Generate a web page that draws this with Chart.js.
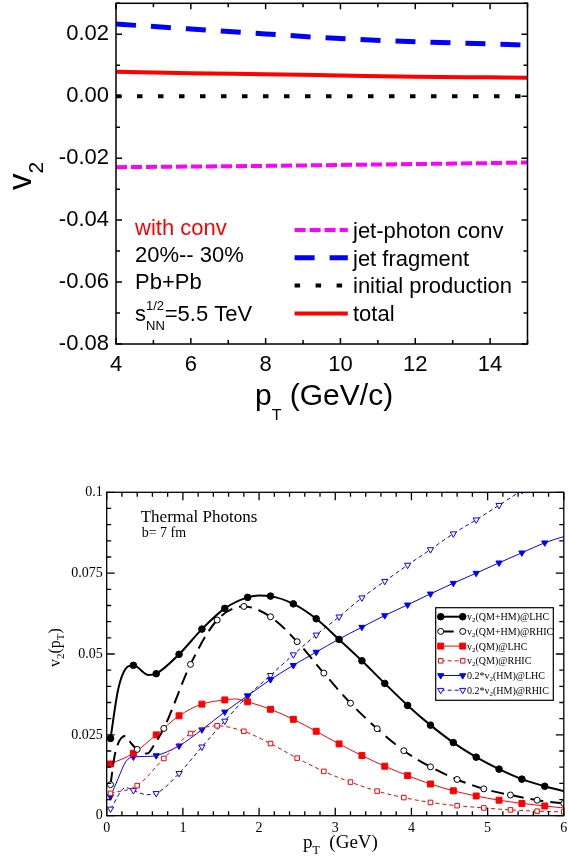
<!DOCTYPE html>
<html>
<head>
<meta charset="utf-8">
<script src="https://cdn.jsdelivr.net/npm/chart.js@4.4.1/dist/chart.umd.min.js"></script>
<style>
  body { margin: 0; background: #fff; }
  canvas { position: absolute; left: 0; }
  #top { top: 0; }
  #bottom { top: 420px; }
</style>
</head>
<body>
<canvas id="top" width="569" height="420"></canvas>
<canvas id="bottom" width="569" height="438"></canvas>
<script>
const sans = '"Liberation Sans", Arial, sans-serif';
const serif = '"Liberation Serif", "Times New Roman", serif';

// top panel: jet photon v2, Pb+Pb 5.5 TeV
const ptJet = [4, 6, 8, 10, 12, 14, 15];
const jetPhotonConv = [-0.0229, -0.0227, -0.0225, -0.0222, -0.0219, -0.0216, -0.0214];
const jetFragment = [0.0233, 0.0217, 0.0201, 0.0186, 0.0176, 0.0169, 0.0165];
const initialProduction = [0, 0, 0, 0, 0, 0, 0];
const totalV2 = [0.0079, 0.0074, 0.0071, 0.0067, 0.0063, 0.0061, 0.0060];
const topXTicks = [4, 6, 8, 10, 12, 14];
const topYTicks = [-0.08, -0.06, -0.04, -0.02, 0, 0.02];

// bottom panel: thermal photons, marker positions + values read at them
const lhcPt = [0.05, 0.35, 0.65, 0.95, 1.25, 1.55, 1.85, 2.15, 2.45, 2.75, 3.05, 3.35, 3.65, 3.95, 4.25, 4.55, 4.85, 5.15, 5.45, 5.75];
const rhicPt = [0.05, 0.40, 0.75, 1.10, 1.45, 1.80, 2.15, 2.50, 2.85, 3.20, 3.55, 3.90, 4.25, 4.60, 4.95, 5.30, 5.65, 6.00];
const qmhmLhc = [0.0239, 0.0465, 0.0439, 0.0499, 0.0577, 0.0641, 0.0675, 0.0679, 0.0655, 0.0609, 0.0545, 0.0479, 0.0409, 0.0341, 0.0280, 0.0226, 0.0181, 0.0144, 0.0113, 0.0091];
const qmhmRhic = [0.0096, 0.0205, 0.0270, 0.0468, 0.0605, 0.0647, 0.0615, 0.0538, 0.0441, 0.0348, 0.0269, 0.0201, 0.0151, 0.0112, 0.0083, 0.0064, 0.0048, 0.0038];
const qmLhc = [0.0160, 0.0193, 0.0250, 0.0309, 0.0345, 0.0358, 0.0352, 0.0329, 0.0298, 0.0261, 0.0222, 0.0186, 0.0153, 0.0124, 0.0098, 0.0077, 0.0061, 0.0048, 0.0038, 0.0030];
const qmRhic = [0.0069, 0.0093, 0.0177, 0.0254, 0.0278, 0.0261, 0.0223, 0.0178, 0.0137, 0.0104, 0.0076, 0.0056, 0.0041, 0.0031, 0.0024, 0.0018, 0.0014, 0.0012];
const hmLhc = [0.0059, 0.0182, 0.0186, 0.0216, 0.0266, 0.0321, 0.0371, 0.0421, 0.0465, 0.0506, 0.0546, 0.0583, 0.0619, 0.0652, 0.0686, 0.0719, 0.0750, 0.0782, 0.0813, 0.0844];
const hmRhic = [0.0021, 0.0078, 0.0069, 0.0131, 0.0213, 0.0293, 0.0370, 0.0434, 0.0498, 0.0559, 0.0615, 0.0674, 0.0725, 0.0775, 0.0823, 0.0872, 0.0915, 0.0960, 0.1006];
// curve points between markers (no symbol drawn there)
const qmhmLhcCurve = [[0.15, 0.0390], [0.25, 0.0455], [0.55, 0.0435], [2.0, 0.0681], [6.0, 0.0076]];
const qmhmRhicCurve = [[0.11, 0.0192], [0.25, 0.0247], [0.32, 0.0224], [0.53, 0.0192], [0.63, 0.0222]];
const qmLhcCurve = [[1.68, 0.0361], [6.0, 0.0024]];
const hmLhcCurve = [[0.15, 0.0115], [0.25, 0.0167], [0.5, 0.0183], [6.0, 0.0863]];
const hmRhicCurve = [[0.25, 0.0087], [0.53, 0.0065]];
const bottomXTicks = [0, 1, 2, 3, 4, 5, 6];
const bottomYTicks = [0, 0.025, 0.05, 0.075, 0.1];

function pts(xs, ys, extra) {
  const p = ys.map((y, i) => ({ x: xs[i], y: y, m: true }));
  (extra || []).forEach(e => p.push({ x: e[0], y: e[1], m: false }));
  return p.sort((a, b) => a.x - b.x);
}

// draws text pieces one after another; [text, size, dy, advance?]
function rich(ctx, x, y, parts, family) {
  let cx = x;
  parts.forEach(([t, size, dy, adv]) => {
    ctx.font = size + 'px ' + family;
    ctx.fillText(t, cx, y + (dy || 0));
    if (adv !== false) cx += ctx.measureText(t).width;
  });
  return cx;
}

function subParts(label, size, subSize, dy) {
  return label.split(/_(\w)/).map((t, i) => i % 2 ? [t, subSize, dy] : [t, size, 0]).filter(p => p[0]);
}

// frame + inward ticks on all four sides
function frameTicks(o) {
  return {
    id: 'frameTicks',
    afterDraw(chart) {
      const { ctx, chartArea: a, scales: { x, y } } = chart;
      ctx.save();
      ctx.strokeStyle = '#000';
      ctx.lineWidth = o.width;
      ctx.setLineDash([]);
      ctx.beginPath();
      const xt = (v, len) => {
        const p = x.getPixelForValue(v);
        ctx.moveTo(p, a.bottom); ctx.lineTo(p, a.bottom - len);
        ctx.moveTo(p, a.top); ctx.lineTo(p, a.top + len);
      };
      const yt = (v, len) => {
        const p = y.getPixelForValue(v);
        ctx.moveTo(a.left, p); ctx.lineTo(a.left + len, p);
        ctx.moveTo(a.right, p); ctx.lineTo(a.right - len, p);
      };
      for (let v = x.min; v <= x.max + 1e-9; v += o.xMinor) xt(v, o.minor);
      for (let v = y.min; v <= y.max + 1e-9; v += o.yMinor) yt(v, o.minor);
      o.xMajor.forEach(v => xt(v, o.major));
      o.yMajor.forEach(v => yt(v, o.major));
      ctx.stroke();
      ctx.strokeRect(a.left, a.top, a.right - a.left, a.bottom - a.top);
      ctx.restore();
    }
  };
}

const topNotes = {
  id: 'topNotes',
  afterDraw(chart) {
    const ctx = chart.ctx;
    ctx.save();
    ctx.textBaseline = 'alphabetic';
    // legend
    chart.data.datasets.forEach((ds, i) => {
      const y = 230 + i * 27.8;
      ctx.strokeStyle = ds.borderColor;
      ctx.lineWidth = ds.borderWidth;
      ctx.setLineDash(ds.borderDash || []);
      ctx.beginPath(); ctx.moveTo(294.6, y); ctx.lineTo(347.8, y); ctx.stroke();
      ctx.setLineDash([]);
      ctx.fillStyle = '#000';
      ctx.font = '22px ' + sans;
      ctx.fillText(ds.label, 353, y + 7.8);
    });
    ctx.fillStyle = '#ff0000';
    rich(ctx, 135, 235, [['with conv', 22]], sans);
    ctx.fillStyle = '#000';
    rich(ctx, 135, 262, [['20%-- 30%', 22]], sans);
    rich(ctx, 135, 289, [['Pb+Pb', 22]], sans);
    rich(ctx, 135, 321, [['s', 22], ['1/2', 13, -11, false], ['NN', 13, 9], ['=5.5 TeV', 22]], sans);
    // axis titles
    rich(ctx, 255, 405, [['p', 30], ['T', 16, 16], [' (GeV/c)', 30]], sans);
    ctx.translate(31, 190);
    ctx.rotate(-Math.PI / 2);
    rich(ctx, 0, 0, [['v', 33], ['2', 21, 12]], sans);
    ctx.restore();
  }
};

new Chart(document.getElementById('top'), {
  type: 'line',
  data: {
    labels: ptJet,
    datasets: [
      { label: 'jet-photon conv', data: jetPhotonConv, borderColor: '#ff00ff', borderWidth: 4, borderDash: [11, 4] },
      { label: 'jet fragment', data: jetFragment, borderColor: '#0000ff', borderWidth: 5, borderDash: [20, 15] },
      { label: 'initial production', data: initialProduction, borderColor: '#000000', borderWidth: 4, borderDash: [5.5, 15.5] },
      { label: 'total', data: totalV2, borderColor: '#ff0000', borderWidth: 4 }
    ].map(ds => Object.assign(ds, { pointRadius: 0, cubicInterpolationMode: 'monotone', fill: false }))
  },
  options: {
    responsive: false, animation: false, events: [],
    parsing: true,
    layout: { padding: { top: 3.3, right: 41.5, left: 0, bottom: 0 } },
    plugins: { legend: { display: false }, tooltip: { enabled: false } },
    scales: {
      x: {
        type: 'linear', min: 4, max: 15,
        grid: { display: false, drawTicks: false }, border: { display: false },
        afterBuildTicks: s => { s.ticks = topXTicks.map(v => ({ value: v })); },
        afterFit: s => { s.height = 76; s.paddingLeft = 0; s.paddingRight = 0; },
        ticks: { padding: 8, color: '#000', font: { family: sans, size: 22 }, maxRotation: 0, callback: v => String(v) }
      },
      y: {
        type: 'linear', min: -0.08, max: 0.03,
        grid: { display: false, drawTicks: false }, border: { display: false },
        afterBuildTicks: s => { s.ticks = topYTicks.map(v => ({ value: v })); },
        afterFit: s => { s.width = 116; s.paddingTop = 0; s.paddingBottom = 0; },
        ticks: { padding: 7, color: '#000', font: { family: sans, size: 22 }, callback: v => v.toFixed(2) }
      }
    }
  },
  plugins: [frameTicks({ width: 1.5, major: 6, minor: 4, xMinor: 1, yMinor: 0.01, xMajor: topXTicks, yMajor: topYTicks }), topNotes]
});

function thermal(label, data, color, width, dash, style, filled, r) {
  return {
    label: label, data: data, borderColor: color, borderWidth: width, borderDash: dash,
    pointStyle: style, pointRotation: style === 'triangle' ? 180 : 0,
    pointBackgroundColor: filled ? color : '#ffffff', pointBorderColor: color, pointBorderWidth: 1,
    markerR: r, markerFilled: filled,
    pointRadius: c => (c.raw && c.raw.m ? r : 0),
    cubicInterpolationMode: 'monotone', fill: false
  };
}

const bottomNotes = {
  id: 'bottomNotes',
  afterDraw(chart) {
    const ctx = chart.ctx;
    ctx.save();
    ctx.fillStyle = '#000';
    ctx.textBaseline = 'alphabetic';
    rich(ctx, 140.7, 101.7, [['Thermal Photons', 17]], serif);
    rich(ctx, 141.7, 116.7, [['b= 7 fm', 14]], serif);
    rich(ctx, 303, 428, [['p', 19], ['T', 12, 6], ['  (GeV)', 19]], serif);
    // legend box
    ctx.strokeStyle = '#000';
    ctx.lineWidth = 1.2;
    ctx.strokeRect(435.7, 187.7, 117.6, 92.6);
    chart.data.datasets.forEach((ds, i) => {
      const y = 196.7 + i * 14.7;
      ctx.strokeStyle = ds.borderColor;
      ctx.lineWidth = ds.borderWidth;
      ctx.setLineDash(ds.borderDash || []);
      ctx.beginPath(); ctx.moveTo(440.7, y); ctx.lineTo(462.7, y); ctx.stroke();
      ctx.setLineDash([]);
      ctx.lineWidth = 1;
      ctx.fillStyle = ds.markerFilled ? ds.borderColor : '#ffffff';
      [440.7, 462.7].forEach(px => Chart.helpers.drawPoint(ctx, { pointStyle: ds.pointStyle, rotation: ds.pointRotation, radius: ds.markerR, borderWidth: 1 }, px, y));
      ctx.fillStyle = '#000';
      rich(ctx, 467, y + 3.5, subParts(ds.label, 10, 7, 2), serif);
    });
    ctx.translate(60, 247);
    ctx.rotate(-Math.PI / 2);
    rich(ctx, 0, 0, [['v', 16], ['2', 11, 4], ['(p', 16], ['T', 11, 4], [')', 16]], serif);
    ctx.restore();
  }
};

new Chart(document.getElementById('bottom'), {
  type: 'line',
  data: {
    datasets: [
      thermal('v_2(QM+HM)@LHC', pts(lhcPt, qmhmLhc, qmhmLhcCurve), '#000000', 2, [], 'circle', true, 3.3),
      thermal('v_2(QM+HM)@RHIC', pts(rhicPt, qmhmRhic, qmhmRhicCurve), '#000000', 2, [13, 7], 'circle', false, 3),
      thermal('v_2(QM)@LHC', pts(lhcPt, qmLhc, qmLhcCurve), '#ff0000', 1, [], 'rect', true, 4.2),
      thermal('v_2(QM)@RHIC', pts(rhicPt, qmRhic), '#ff0000', 1, [4, 3], 'rect', false, 3.2),
      thermal('0.2*v_2(HM)@LHC', pts(lhcPt, hmLhc, hmLhcCurve), '#0000ff', 1, [], 'triangle', true, 3.6),
      thermal('0.2*v_2(HM)@RHIC', pts(lhcPt, hmRhic, hmRhicCurve), '#0000ff', 1, [4, 3], 'triangle', false, 3.6)
    ]
  },
  options: {
    responsive: false, animation: false, events: [],
    layout: { padding: { top: 72.3, right: 0.5, left: 0, bottom: 0 } },
    plugins: { legend: { display: false }, tooltip: { enabled: false } },
    scales: {
      x: {
        type: 'linear', min: 0, max: 6,
        grid: { display: false, drawTicks: false }, border: { display: false },
        afterBuildTicks: s => { s.ticks = bottomXTicks.map(v => ({ value: v })); },
        afterFit: s => { s.height = 42.3; s.paddingLeft = 0; s.paddingRight = 0; },
        ticks: { padding: 4, color: '#000', font: { family: serif, size: 14 }, maxRotation: 0, callback: v => String(v) }
      },
      y: {
        type: 'linear', min: 0, max: 0.1,
        grid: { display: false, drawTicks: false }, border: { display: false },
        afterBuildTicks: s => { s.ticks = bottomYTicks.map(v => ({ value: v })); },
        afterFit: s => { s.width = 106.7; s.paddingTop = 0; s.paddingBottom = 0; },
        ticks: { padding: 4, color: '#000', font: { family: serif, size: 14 }, callback: v => String(v) }
      }
    }
  },
  plugins: [frameTicks({ width: 1.3, major: 8, minor: 4.5, xMinor: 0.2, yMinor: 0.005, xMajor: bottomXTicks, yMajor: bottomYTicks }), bottomNotes]
});
</script>
</body>
</html>
